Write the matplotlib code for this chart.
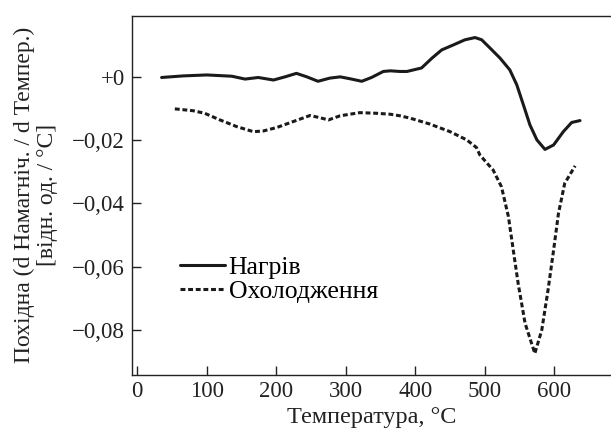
import matplotlib
matplotlib.use("Agg")
import matplotlib.pyplot as plt

plt.rcParams['font.family'] = ['Liberation Serif', 'DejaVu Serif']

# нагрів (heating) curve: temperature, derivative
t_heat = [35, 66, 100, 136, 155, 174, 196, 212.5, 229, 244, 260, 277, 292, 306,
          323, 337, 354, 364, 378, 388, 409, 424, 438, 455, 471.5, 486, 495.5,
          507.5, 522, 536, 546, 555.5, 565, 575, 586.6, 599, 613, 625, 637]
d_heat = [-0.0003, 0.0002, 0.0005, 0.0001, -0.0008, -0.0003, -0.0011, -0.0001,
          0.0010, -0.0001, -0.0015, -0.0005, -0.0001, -0.0007, -0.0015, -0.0003,
          0.0016, 0.0018, 0.0016, 0.0016, 0.0027, 0.0058, 0.0084, 0.0100, 0.0116,
          0.0123, 0.0116, 0.0090, 0.0058, 0.0021, -0.0026, -0.0089, -0.0153,
          -0.0200, -0.0230, -0.0216, -0.0174, -0.0145, -0.0139]

# охолодження (cooling) curve
t_cool = [54, 80.6, 97, 119, 143, 167, 181, 200.6, 224.5, 248.5, 263, 275, 291.7,
          320, 344.5, 364, 378, 392, 421, 450, 474, 488, 493, 512, 524, 534, 541,
          548, 558, 572, 582, 591, 599, 606, 615, 630]
d_cool = [-0.0102, -0.0108, -0.0116, -0.0137, -0.0158, -0.0174, -0.0172, -0.0161,
          -0.0142, -0.0123, -0.0130, -0.0137, -0.0124, -0.0114, -0.0116, -0.0119,
          -0.0124, -0.0131, -0.0150, -0.0174, -0.0200, -0.0224, -0.0248, -0.0295,
          -0.0348, -0.0442, -0.0548, -0.0653, -0.0779, -0.0874, -0.0800, -0.0674,
          -0.0548, -0.0432, -0.0337, -0.0282]

x_ticks = [0, 100, 200, 300, 400, 500, 600]
y_ticks = [-0.08, -0.06, -0.04, -0.02, 0.0]
y_tick_labels = ["−0,08", "−0,06", "−0,04", "−0,02", "+0"]

fig = plt.figure(figsize=(6.11, 4.32), dpi=100)
ax = fig.add_axes([132 / 611, 57 / 432, 479 / 611, 359.3 / 432])

lw = 2.2
ax.plot(t_heat, d_heat, color="#1a1a1a", lw=lw, solid_joinstyle="round",
        solid_capstyle="round", label="Нагрів")
ax.plot(t_cool, d_cool, color="#1a1a1a", lw=lw, linestyle=(0, (1.6, 0.9)),
        label="Охолодження")

ax.set_xlim(-7.6, 681.6)
ax.set_ylim(-0.0942, 0.0192)

ax.spines["right"].set_visible(False)
for s in ("left", "bottom", "top"):
    ax.spines[s].set_linewidth(1.0)
    ax.spines[s].set_color("#222222")

ax.set_xticks(x_ticks)
ax.set_yticks(y_ticks)
ax.set_yticklabels(y_tick_labels)
ax.tick_params(direction="in", length=6.5, width=1.0, labelsize=16.5,
               colors="#222222", pad=5)
ax.tick_params(axis="x", pad=4.5)

ax.set_xlabel("Температура, °C", fontsize=17.5, color="#222222")
ax.xaxis.set_label_coords(0.5, -0.088)
ax.set_ylabel("Похідна (d Намагніч. / d Темпер.)\n[відн. од. / °C]",
              fontsize=17, color="#222222", linespacing=1.1)
ax.yaxis.set_label_coords(-0.155, 0.5)

ax.legend(loc="upper left", bbox_to_anchor=(0.1, 0.332), frameon=False,
          fontsize=18.5, handlelength=1.75, handletextpad=0.15,
          labelspacing=0.05, borderpad=0, borderaxespad=0)

fig.savefig("out.png", dpi=100)
